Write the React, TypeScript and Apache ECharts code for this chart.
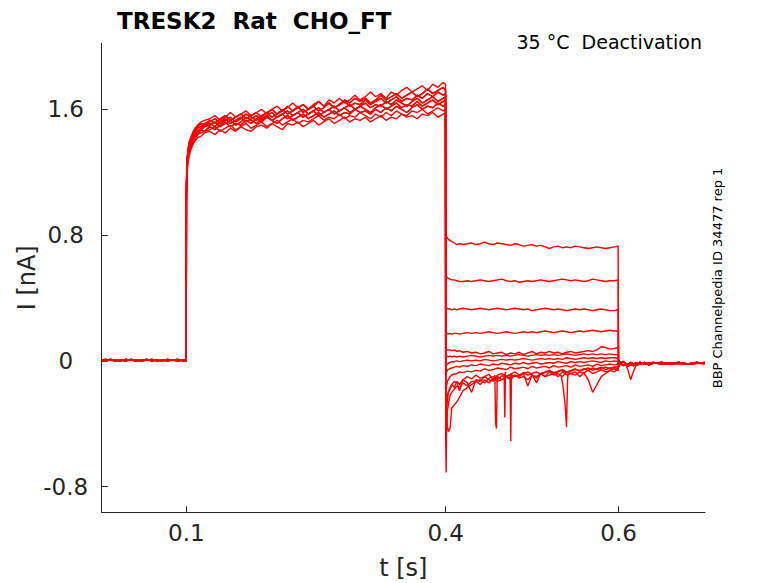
import React, { useEffect, useRef } from "react";
import * as echarts from "echarts";

// ---------- tick labels ----------
const X_TICKS = [0.1, 0.4, 0.6];
const X_TICK_LABELS = ["0.1", "0.4", "0.6"];
const Y_TICKS = [-0.8, 0, 0.8, 1.6];
const Y_TICK_LABELS = ["-0.8", "0", "0.8", "1.6"];

// ---------- time grids (s) ----------
const BASE_T = [0.002, 0.006, 0.012, 0.018, 0.024, 0.03, 0.036, 0.042, 0.048, 0.054, 0.06, 0.066, 0.072, 0.078, 0.084, 0.09, 0.096, 0.0998];

const ACT_T = [
  0.1, 0.1002, 0.1006, 0.101, 0.102, 0.103, 0.105, 0.107, 0.11, 0.113, 0.117, 0.121,
  0.127, 0.133, 0.139, 0.145, 0.151, 0.157, 0.163, 0.169, 0.175, 0.181,
  0.187, 0.193, 0.199, 0.205, 0.211, 0.217, 0.223, 0.229, 0.235, 0.241,
  0.247, 0.253, 0.259, 0.265, 0.271, 0.277, 0.283, 0.289, 0.295, 0.301,
  0.307, 0.313, 0.319, 0.325, 0.331, 0.337, 0.343, 0.349, 0.355, 0.361,
  0.367, 0.373, 0.379, 0.385, 0.391, 0.397, 0.3998,
];

const TAIL_T = [
  0.4, 0.4005, 0.401, 0.402, 0.403, 0.405, 0.407, 0.41, 0.413, 0.416,
  0.42, 0.425, 0.43, 0.435, 0.44, 0.445, 0.45, 0.455, 0.46, 0.465,
  0.47, 0.475, 0.48, 0.485, 0.49, 0.495, 0.5, 0.505, 0.51, 0.515,
  0.52, 0.525, 0.53, 0.535, 0.54, 0.545, 0.55, 0.555, 0.56, 0.565,
  0.57, 0.575, 0.58, 0.585, 0.59, 0.595, 0.5995,
];

const POST_T = [0.6, 0.6005, 0.602, 0.605, 0.608, 0.611, 0.614, 0.617, 0.62, 0.625, 0.63, 0.635, 0.64, 0.65, 0.66, 0.67, 0.68, 0.69, 0.7];

// ---------- baseline currents (nA) ----------
const BASE_A = [0.005, 0.0, 0.01, 0.005, 0.0, 0.01, 0.005, 0.0, 0.005, 0.01, 0.0, 0.005, 0.0, 0.01, 0.005, 0.0, 0.005, 0.0];
const BASE_B = [0.0, 0.01, 0.005, 0.0, 0.005, 0.0, 0.01, 0.005, 0.0, 0.005, 0.01, 0.0, 0.005, 0.0, 0.005, 0.01, 0.0, 0.005];

// ---------- activation currents (nA) ----------
const ACT_A = [
  0.98, 1.08, 1.16, 1.21, 1.26, 1.30, 1.34, 1.37, 1.40, 1.42, 1.43, 1.45,
  1.46, 1.44, 1.47, 1.45, 1.48, 1.46, 1.49, 1.47, 1.46, 1.49,
  1.50, 1.48, 1.51, 1.49, 1.47, 1.51, 1.50, 1.52, 1.49, 1.51,
  1.53, 1.50, 1.52, 1.54, 1.51, 1.53, 1.55, 1.52, 1.54, 1.53,
  1.55, 1.52, 1.54, 1.56, 1.53, 1.55, 1.54, 1.57, 1.55, 1.56,
  1.54, 1.57, 1.56, 1.58, 1.55, 1.57, 1.58,
];
const ACT_B = [
  1.02, 1.10, 1.18, 1.23, 1.28, 1.32, 1.36, 1.38, 1.41, 1.44, 1.45, 1.46,
  1.47, 1.49, 1.46, 1.48, 1.50, 1.47, 1.49, 1.51, 1.48, 1.50,
  1.52, 1.49, 1.51, 1.53, 1.50, 1.52, 1.54, 1.51, 1.53, 1.52,
  1.54, 1.56, 1.53, 1.55, 1.54, 1.57, 1.54, 1.56, 1.55, 1.58,
  1.56, 1.54, 1.57, 1.55, 1.58, 1.56, 1.59, 1.57, 1.56, 1.59,
  1.58, 1.60, 1.57, 1.59, 1.61, 1.59, 1.60,
];
const ACT_C = [
  1.00, 1.12, 1.20, 1.25, 1.30, 1.33, 1.37, 1.40, 1.43, 1.44, 1.47, 1.46,
  1.49, 1.47, 1.50, 1.52, 1.49, 1.51, 1.50, 1.53, 1.51, 1.54,
  1.52, 1.55, 1.53, 1.51, 1.54, 1.56, 1.53, 1.55, 1.57, 1.54,
  1.56, 1.58, 1.55, 1.57, 1.59, 1.56, 1.58, 1.57, 1.60, 1.58,
  1.59, 1.57, 1.60, 1.58, 1.61, 1.59, 1.62, 1.60, 1.58, 1.61,
  1.63, 1.60, 1.62, 1.61, 1.64, 1.62, 1.63,
];
const ACT_D = [
  1.05, 1.14, 1.21, 1.26, 1.31, 1.35, 1.38, 1.41, 1.43, 1.46, 1.47, 1.49,
  1.50, 1.52, 1.49, 1.51, 1.53, 1.50, 1.52, 1.55, 1.53, 1.51,
  1.54, 1.56, 1.53, 1.55, 1.57, 1.54, 1.56, 1.58, 1.55, 1.57,
  1.59, 1.56, 1.58, 1.60, 1.57, 1.59, 1.61, 1.58, 1.60, 1.62,
  1.60, 1.58, 1.61, 1.63, 1.60, 1.62, 1.64, 1.61, 1.63, 1.62,
  1.65, 1.62, 1.64, 1.66, 1.63, 1.65, 1.66,
];
const ACT_E = [
  1.03, 1.13, 1.22, 1.27, 1.32, 1.36, 1.39, 1.42, 1.45, 1.46, 1.48, 1.50,
  1.51, 1.49, 1.52, 1.54, 1.51, 1.53, 1.55, 1.52, 1.54, 1.56,
  1.53, 1.56, 1.58, 1.55, 1.57, 1.59, 1.56, 1.58, 1.60, 1.57,
  1.59, 1.61, 1.58, 1.60, 1.62, 1.59, 1.61, 1.63, 1.60, 1.62,
  1.64, 1.61, 1.63, 1.62, 1.65, 1.63, 1.66, 1.64, 1.62, 1.65,
  1.67, 1.64, 1.66, 1.68, 1.65, 1.67, 1.68,
];
const ACT_F = [
  1.08, 1.16, 1.23, 1.28, 1.33, 1.37, 1.40, 1.43, 1.46, 1.48, 1.49, 1.51,
  1.52, 1.54, 1.51, 1.53, 1.55, 1.52, 1.54, 1.57, 1.55, 1.53,
  1.56, 1.58, 1.55, 1.57, 1.60, 1.57, 1.59, 1.62, 1.58, 1.60,
  1.62, 1.59, 1.61, 1.64, 1.61, 1.63, 1.65, 1.62, 1.64, 1.63,
  1.66, 1.63, 1.65, 1.67, 1.64, 1.66, 1.68, 1.65, 1.67, 1.66,
  1.69, 1.67, 1.70, 1.68, 1.71, 1.69, 1.70,
];
const ACT_G = [
  1.06, 1.15, 1.24, 1.29, 1.34, 1.38, 1.41, 1.44, 1.47, 1.49, 1.51, 1.50,
  1.53, 1.51, 1.54, 1.56, 1.53, 1.55, 1.57, 1.54, 1.56, 1.58,
  1.55, 1.58, 1.60, 1.57, 1.59, 1.62, 1.59, 1.61, 1.63, 1.60,
  1.62, 1.65, 1.62, 1.64, 1.61, 1.63, 1.66, 1.64, 1.67, 1.65,
  1.67, 1.64, 1.66, 1.69, 1.66, 1.68, 1.70, 1.67, 1.69, 1.71,
  1.68, 1.70, 1.73, 1.70, 1.72, 1.74, 1.72,
];
const ACT_H = [
  1.10, 1.18, 1.25, 1.30, 1.35, 1.39, 1.42, 1.45, 1.48, 1.50, 1.52, 1.53,
  1.54, 1.56, 1.53, 1.55, 1.58, 1.55, 1.57, 1.59, 1.56, 1.58,
  1.60, 1.57, 1.60, 1.62, 1.59, 1.61, 1.64, 1.61, 1.63, 1.60,
  1.63, 1.65, 1.62, 1.66, 1.64, 1.67, 1.64, 1.66, 1.69, 1.66,
  1.68, 1.71, 1.68, 1.70, 1.67, 1.71, 1.69, 1.72, 1.74, 1.71,
  1.73, 1.75, 1.72, 1.76, 1.74, 1.77, 1.76,
];

// ---------- deactivation (tail) currents (nA) ----------
const TAIL_1 = [
  0.80, 0.80, 0.79, 0.78, 0.775, 0.765, 0.76, 0.75, 0.74, 0.745,
  0.74, 0.745, 0.75, 0.74, 0.745, 0.755, 0.745, 0.74, 0.75, 0.745,
  0.74, 0.735, 0.745, 0.74, 0.73, 0.735, 0.74, 0.73, 0.735, 0.725,
  0.715, 0.725, 0.73, 0.72, 0.725, 0.72, 0.73, 0.725, 0.72, 0.715,
  0.72, 0.725, 0.72, 0.715, 0.72, 0.725, 0.73,
];
const TAIL_2 = [
  0.545, 0.54, 0.535, 0.53, 0.525, 0.52, 0.515, 0.515, 0.51, 0.505,
  0.505, 0.51, 0.505, 0.51, 0.515, 0.51, 0.505, 0.51, 0.515, 0.52,
  0.51, 0.505, 0.51, 0.50, 0.505, 0.51, 0.505, 0.51, 0.515, 0.51,
  0.505, 0.51, 0.515, 0.52, 0.515, 0.51, 0.515, 0.51, 0.505, 0.51,
  0.52, 0.515, 0.51, 0.505, 0.51, 0.51, 0.515,
];
const TAIL_3 = [
  0.34, 0.34, 0.335, 0.335, 0.33, 0.33, 0.325, 0.33, 0.325, 0.33,
  0.335, 0.33, 0.325, 0.33, 0.335, 0.33, 0.325, 0.33, 0.335, 0.33,
  0.325, 0.33, 0.335, 0.33, 0.325, 0.33, 0.32, 0.325, 0.33, 0.335,
  0.33, 0.325, 0.33, 0.325, 0.32, 0.325, 0.33, 0.325, 0.33, 0.325,
  0.32, 0.325, 0.33, 0.325, 0.32, 0.32, 0.325,
];
const TAIL_4 = [
  0.17, 0.17, 0.175, 0.175, 0.17, 0.175, 0.17, 0.175, 0.175, 0.17,
  0.175, 0.18, 0.175, 0.18, 0.175, 0.18, 0.185, 0.18, 0.175, 0.18,
  0.185, 0.18, 0.175, 0.18, 0.185, 0.18, 0.185, 0.18, 0.185, 0.19,
  0.185, 0.18, 0.185, 0.19, 0.185, 0.18, 0.185, 0.19, 0.185, 0.19,
  0.195, 0.19, 0.185, 0.19, 0.195, 0.19, 0.19,
];
const TAIL_5 = [
  0.08, 0.075, 0.075, 0.07, 0.07, 0.07, 0.065, 0.07, 0.06, 0.065,
  0.055, 0.06, 0.05, 0.055, 0.045, 0.05, 0.06, 0.045, 0.05, 0.055,
  0.04, 0.05, 0.045, 0.055, 0.04, 0.05, 0.06, 0.045, 0.055, 0.05,
  0.06, 0.05, 0.055, 0.045, 0.055, 0.06, 0.05, 0.055, 0.06, 0.065,
  0.06, 0.07, 0.09, 0.085, 0.075, 0.08, 0.085,
];
const TAIL_6 = [
  0.04, 0.035, 0.03, 0.03, 0.025, 0.03, 0.025, 0.03, 0.025, 0.03,
  0.025, 0.03, 0.035, 0.03, 0.025, 0.03, 0.035, 0.03, 0.035, 0.03,
  0.035, 0.03, 0.035, 0.04, 0.035, 0.03, 0.035, 0.04, 0.035, 0.04,
  0.035, 0.04, 0.035, 0.04, 0.045, 0.04, 0.035, 0.04, 0.045, 0.04,
  0.045, 0.04, 0.045, 0.04, 0.045, 0.04, 0.04,
];
const TAIL_7 = [
  -0.02, -0.03, -0.025, -0.02, -0.015, -0.01, -0.005, -0.005, 0.0, -0.005,
  0.0, 0.005, 0.0, 0.005, 0.0, 0.01, 0.005, 0.0, 0.005, 0.01,
  0.005, 0.01, 0.005, 0.01, 0.015, 0.01, 0.005, 0.01, 0.015, 0.01,
  0.015, 0.01, 0.015, 0.01, 0.02, 0.015, 0.01, 0.015, 0.02, 0.015,
  0.02, 0.015, 0.02, 0.015, 0.02, 0.02, 0.015,
];
const TAIL_8 = [
  -0.08, -0.09, -0.07, -0.06, -0.055, -0.05, -0.045, -0.04, -0.035, -0.04,
  -0.03, -0.035, -0.025, -0.03, -0.02, -0.025, -0.03, -0.02, -0.025, -0.015,
  -0.02, -0.025, -0.015, -0.02, -0.01, -0.02, -0.015, -0.01, -0.02, -0.015,
  -0.01, -0.015, -0.005, -0.01, -0.015, -0.005, -0.01, -0.005, -0.01, -0.005,
  0.0, -0.005, -0.01, 0.0, -0.005, 0.0, -0.005,
];
const TAIL_9 = [
  -0.15, -0.2, -0.16, -0.13, -0.12, -0.1, -0.09, -0.085, -0.08, -0.07,
  -0.075, -0.065, -0.07, -0.06, -0.065, -0.05, -0.06, -0.055, -0.045, -0.05,
  -0.055, -0.04, -0.05, -0.045, -0.04, -0.05, -0.035, -0.045, -0.04, -0.035,
  -0.045, -0.03, -0.04, -0.035, -0.03, -0.04, -0.025, -0.035, -0.03, -0.025,
  -0.035, -0.02, -0.03, -0.025, -0.02, -0.025, -0.02,
];
const TAIL_10 = [
  -0.25, -0.35, -0.28, -0.22, -0.2, -0.17, -0.15, -0.13, -0.14, -0.19,
  -0.12, -0.1, -0.115, -0.09, -0.11, -0.1, -0.085, -0.12, -0.09, -0.08,
  -0.1, -0.085, -0.07, -0.09, -0.08, -0.07, -0.085, -0.14, -0.08, -0.07,
  -0.06, -0.075, -0.065, -0.055, -0.07, -0.06, -0.05, -0.065, -0.055, -0.045,
  -0.06, -0.05, -0.04, -0.055, -0.045, -0.04, -0.05,
];
const TAIL_11 = [
  -0.1, -0.25, -0.35, -0.42, -0.45, -0.43, -0.3, -0.28, -0.26, -0.23,
  -0.19, -0.17, -0.15, -0.13, -0.12, -0.14, -0.11, -0.1, -0.12, -0.095,
  -0.1, -0.085, -0.1, -0.09, -0.075, -0.09, -0.08, -0.07, -0.085, -0.075,
  -0.065, -0.08, -0.07, -0.06, -0.075, -0.065, -0.055, -0.06, -0.05, -0.06,
  -0.045, -0.055, -0.045, -0.04, -0.05, -0.04, -0.035,
];
const TAIL_12 = [
  -0.5, -0.71, -0.45, -0.32, -0.28, -0.22, -0.2, -0.18, -0.16, -0.17,
  -0.14, -0.16, -0.13, -0.13, -0.15, -0.12, -0.14, -0.11, -0.13, -0.12,
  -0.1, -0.12, -0.09, -0.11, -0.1, -0.12, -0.09, -0.1, -0.08, -0.1,
  -0.09, -0.08, -0.1, -0.07, -0.09, -0.08, -0.07, -0.1, -0.075, -0.06,
  -0.08, -0.07, -0.055, -0.07, -0.06, -0.05, -0.06,
];
const TAIL_13 = [
  -0.3, -0.45, -0.3, -0.25, -0.2, -0.18, -0.15, -0.17, -0.13, -0.15,
  -0.12, -0.14, -0.2, -0.12, -0.13, -0.1, -0.12, -0.13, -0.1, -0.12,
  -0.1, -0.11, -0.09, -0.1, -0.08, -0.16, -0.09, -0.11, -0.08, -0.1,
  -0.07, -0.09, -0.08, -0.1, -0.07, -0.08, -0.09, -0.07, -0.08, -0.12,
  -0.2, -0.15, -0.1, -0.08, -0.06, -0.07, -0.05,
];

// ---------- return to holding (nA) ----------
const POST_A = [0.005, -0.01, -0.02, -0.005, -0.015, -0.025, -0.01, -0.02, -0.015, -0.01, -0.02, -0.015, -0.01, -0.02, -0.015, -0.01, -0.02, -0.015, -0.01];
const POST_B = [-0.02, 0.0, -0.01, -0.03, -0.02, -0.035, -0.02, -0.03, -0.025, -0.02, -0.01, -0.025, -0.015, -0.01, -0.02, -0.015, -0.02, -0.01, -0.015];
const POST_C = [-0.03, -0.04, -0.02, 0.0, -0.02, -0.06, -0.12, -0.07, -0.03, -0.02, -0.015, -0.02, -0.01, -0.02, -0.015, -0.01, -0.02, -0.015, -0.02];

// ---------- short transient spikes during the tail [t, I] ----------
const SPIKE_1 = [[0.4568, -0.09], [0.4578, -0.4], [0.4588, -0.43], [0.4596, -0.1]];
const SPIKE_2 = [[0.4676, -0.08], [0.4684, -0.36], [0.4691, -0.07]];
const SPIKE_3 = [[0.4744, -0.09], [0.4753, -0.51], [0.4761, -0.08]];
const SPIKE_4 = [[0.5335, -0.09], [0.536, -0.17], [0.538, -0.27], [0.5398, -0.42], [0.541, -0.12], [0.5418, -0.07]];

// ---------- sweep composition ----------
const BASES = [BASE_A, BASE_B];
const ACTS = [ACT_A, ACT_B, ACT_C, ACT_D, ACT_E, ACT_F, ACT_G, ACT_H];
const TAILS = [TAIL_1, TAIL_2, TAIL_3, TAIL_4, TAIL_5, TAIL_6, TAIL_7, TAIL_8, TAIL_9, TAIL_10, TAIL_11, TAIL_12, TAIL_13];
const POSTS = [POST_A, POST_B, POST_C];
const SPIKES = [SPIKE_1, SPIKE_2, SPIKE_3, SPIKE_4];
const BASE_OF = [0, 1, 0, 1, 0, 1, 0, 1, 0, 1, 0, 1, 0];
const ACT_OF = [0, 1, 2, 3, 4, 5, 6, 7, 3, 5, 2, 6, 4];
const POST_OF = [0, 1, 0, 1, 0, 1, 0, 1, 0, 1, 0, 2, 1];

const RED = "#ff0000";
const AX = "#262626";
const FONT = "DejaVu Sans";
const LW = 1.4;

function zip(ts: number[], vs: number[]) {
  return ts.map((t, i) => [t, vs[i]]);
}

export default function App() {
  const ref = useRef<HTMLDivElement>(null);
  useEffect(() => {
    if (!ref.current) return;
    const chart = echarts.init(ref.current, undefined, { renderer: "svg" });

    const sweeps = TAILS.map((tail, i) => ({
      type: "line",
      data: [
        ...zip(BASE_T, BASES[BASE_OF[i]]),
        ...zip(ACT_T, ACTS[ACT_OF[i]]),
        ...zip(TAIL_T, tail),
        ...zip(POST_T, POSTS[POST_OF[i]]),
      ],
      showSymbol: false,
      symbol: "none",
      silent: true,
      lineStyle: { color: RED, width: LW },
      emphasis: { disabled: true },
    }));
    const spikes = SPIKES.map((s) => ({
      type: "line",
      data: s,
      showSymbol: false,
      symbol: "none",
      silent: true,
      lineStyle: { color: RED, width: LW },
      emphasis: { disabled: true },
    }));

    chart.setOption({
      animation: false,
      backgroundColor: "#ffffff",
      title: {
        text: "TRESK2  Rat  CHO_FT",
        left: 112,
        top: 4,
        textStyle: { fontFamily: FONT, fontSize: 23, fontWeight: "bold", color: "#000" },
      },
      graphic: [
        {
          type: "text",
          x: 702,
          y: 41.5,
          style: { text: "35 °C  Deactivation", font: `19px '${FONT}'`, fill: "#000", align: "right", verticalAlign: "middle" },
        },
        {
          type: "text",
          x: 717,
          y: 278,
          rotation: Math.PI / 2,
          style: { text: "BBP Channelpedia ID 34477 rep 1", font: `13px '${FONT}'`, fill: "#000", align: "center", verticalAlign: "middle" },
        },
      ],
      grid: { left: 101.7, right: 73, top: 43.3, bottom: 70.7, outerBoundsMode: "none" },
      xAxis: {
        type: "value",
        min: 0.002,
        max: 0.7,
        name: "t [s]",
        nameLocation: "middle",
        nameGap: 44,
        nameTextStyle: { fontFamily: FONT, fontSize: 24, color: AX },
        axisLine: { show: true, onZero: false, lineStyle: { color: AX, width: 1 } },
        axisTick: { show: true, inside: true, length: 6, customValues: X_TICKS, lineStyle: { color: AX, width: 1 } },
        axisLabel: {
          customValues: X_TICKS,
          formatter: (v: number) => X_TICK_LABELS[X_TICKS.indexOf(v)] ?? String(v),
          fontFamily: FONT,
          fontSize: 23,
          color: AX,
          margin: 9,
        },
        splitLine: { show: false },
      },
      yAxis: {
        type: "value",
        min: -0.963,
        max: 2.02,
        name: "I [nA]",
        nameLocation: "middle",
        nameRotate: 90,
        nameGap: 63,
        nameMoveOverlap: false,
        nameTextStyle: { fontFamily: FONT, fontSize: 24, color: AX },
        axisLine: { show: true, onZero: false, lineStyle: { color: AX, width: 1 } },
        axisTick: { show: true, inside: true, length: 6, customValues: Y_TICKS, lineStyle: { color: AX, width: 1 } },
        axisLabel: {
          customValues: Y_TICKS,
          formatter: (v: number) => Y_TICK_LABELS[Y_TICKS.indexOf(v)] ?? String(v),
          fontFamily: FONT,
          fontSize: 23,
          color: AX,
          align: "center",
          margin: 36,
        },
        splitLine: { show: false },
      },
      series: [...sweeps, ...spikes],
    });
    return () => chart.dispose();
  }, []);
  return <div ref={ref} style={{ position: "fixed", left: 0, top: 0, width: 778, height: 583 }} />;
}
